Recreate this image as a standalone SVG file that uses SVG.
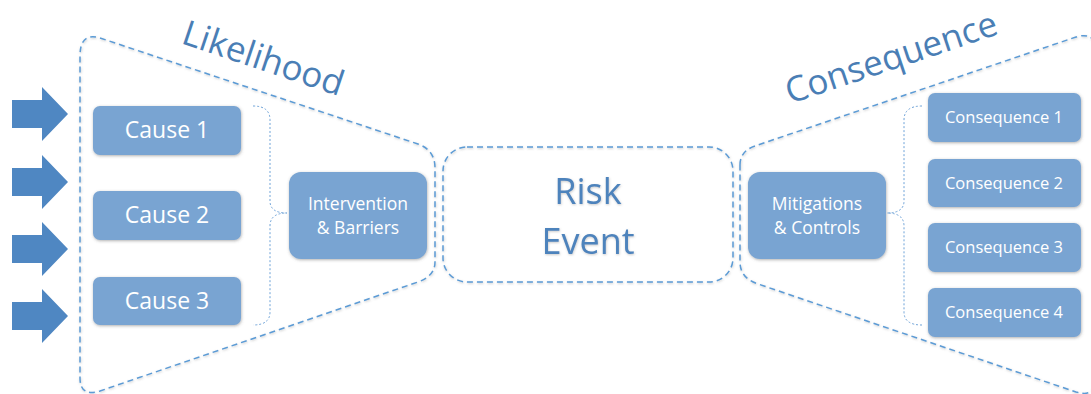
<svg xmlns="http://www.w3.org/2000/svg" width="1091" height="394" viewBox="0 0 1091 394">
  <defs>
    <filter id="boxShadow" x="-10%" y="-20%" width="120%" height="140%">
      <feDropShadow dx="0.5" dy="1" stdDeviation="1.6" flood-color="#555" flood-opacity="0.45"/>
    </filter>
    <filter id="lineGlow" x="-5%" y="-5%" width="110%" height="110%">
      <feDropShadow dx="0.5" dy="1" stdDeviation="1.2" flood-color="#666" flood-opacity="0.35"/>
    </filter>
    <style>
      .frame { fill: none; stroke: #5b9bd5; stroke-width: 1.5; stroke-dasharray: 6 4; }
      .brace { fill: none; stroke: #6fa3d8; stroke-width: 1; stroke-dasharray: 2 2; }
      .box { fill: #79a4d2; filter: url(#boxShadow); }
      .arrow { fill: #4f87c2; }
      .boxText { fill: #ffffff; font-family: "Open Sans", "Liberation Sans", sans-serif; text-anchor: middle; }
      .title { fill: #4a7eb5; font-family: "Open Sans", "Liberation Sans", sans-serif; font-size: 35px; }
      .risk { fill: #4e83bc; font-family: "Open Sans", "Liberation Sans", sans-serif; font-size: 36px; text-anchor: middle; }
    </style>
  </defs>

  <rect width="1091" height="394" fill="#ffffff"/>

  <!-- input arrows -->
  <g id="arrows">
    <polygon class="arrow" points="12,100 42,100 42,87 68,114 42,141 42,128 12,128"/>
    <polygon class="arrow" points="12,168 42,168 42,155 68,182 42,209 42,196 12,196"/>
    <polygon class="arrow" points="12,235 42,235 42,222 68,249 42,276 42,263 12,263"/>
    <polygon class="arrow" points="12,302 42,302 42,289 68,316 42,343 42,330 12,330"/>
  </g>

  <!-- dashed bow-tie outlines -->
  <g id="likelihood-frame" filter="url(#lineGlow)">
    <path class="frame" d="M100,38 L418,144 Q435,150 435,168 L435,262 Q435,276 418,282 L100,391 Q80,397 80,378 L80,56 Q80,32 100,38 Z"/>
  </g>
  <g id="consequence-frame" filter="url(#lineGlow)">
    <path class="frame" d="M740,165 Q740,151 755,146 L1076,37 Q1096,31 1096,52 L1096,378 Q1096,398 1076,392 L758,284 Q740,278 740,262 Z"/>
  </g>

  <!-- connectors (braces) -->
  <g id="connectors">
    <path class="brace" d="M253,106 Q270,106 270,120 L270,201 Q270,213 287,213 Q270,213 270,226 L270,312 Q270,325 253,325"/>
    <path class="brace" d="M922,106 Q904,106 904,120 L904,201 Q904,213 887,213 Q904,213 904,226 L904,312 Q904,325 922,325"/>
  </g>

  <!-- section titles -->
  <text class="title" transform="translate(180,43) rotate(18.5)">Likelihood</text>
  <text class="title" transform="translate(790,104) rotate(-18.5)">Consequence</text>

  <!-- causes -->
  <g id="cause1">
    <rect class="box" x="93" y="106" width="148" height="49" rx="7"/>
    <text class="boxText" x="167" y="138" font-size="23">Cause 1</text>
  </g>
  <g id="cause2">
    <rect class="box" x="93" y="191" width="148" height="49" rx="7"/>
    <text class="boxText" x="167" y="223" font-size="23">Cause 2</text>
  </g>
  <g id="cause3">
    <rect class="box" x="93" y="277" width="148" height="48" rx="7"/>
    <text class="boxText" x="167" y="309" font-size="23">Cause 3</text>
  </g>

  <!-- barriers -->
  <g id="intervention">
    <rect class="box" x="289" y="172" width="138" height="87" rx="12"/>
    <text class="boxText" x="358" y="210" font-size="17.5">Intervention</text>
    <text class="boxText" x="358" y="234" font-size="17.5">&amp; Barriers</text>
  </g>

  <!-- central event -->
  <g id="risk-event" filter="url(#lineGlow)">
    <rect class="frame" x="443" y="147" width="290" height="135" rx="24"/>
    <text class="risk" x="588" y="204">Risk</text>
    <text class="risk" x="588" y="254">Event</text>
  </g>

  <!-- mitigations -->
  <g id="mitigations">
    <rect class="box" x="748" y="172" width="138" height="87" rx="12"/>
    <text class="boxText" x="817" y="210" font-size="17.5">Mitigations</text>
    <text class="boxText" x="817" y="234" font-size="17.5">&amp; Controls</text>
  </g>

  <!-- consequences -->
  <g id="consequence1">
    <rect class="box" x="928" y="93" width="153" height="49" rx="7"/>
    <text class="boxText" x="1004" y="123" font-size="16.5">Consequence 1</text>
  </g>
  <g id="consequence2">
    <rect class="box" x="928" y="159" width="153" height="48" rx="7"/>
    <text class="boxText" x="1004" y="189" font-size="16.5">Consequence 2</text>
  </g>
  <g id="consequence3">
    <rect class="box" x="928" y="223" width="153" height="49" rx="7"/>
    <text class="boxText" x="1004" y="253" font-size="16.5">Consequence 3</text>
  </g>
  <g id="consequence4">
    <rect class="box" x="928" y="288" width="153" height="49" rx="7"/>
    <text class="boxText" x="1004" y="318" font-size="16.5">Consequence 4</text>
  </g>
</svg>
